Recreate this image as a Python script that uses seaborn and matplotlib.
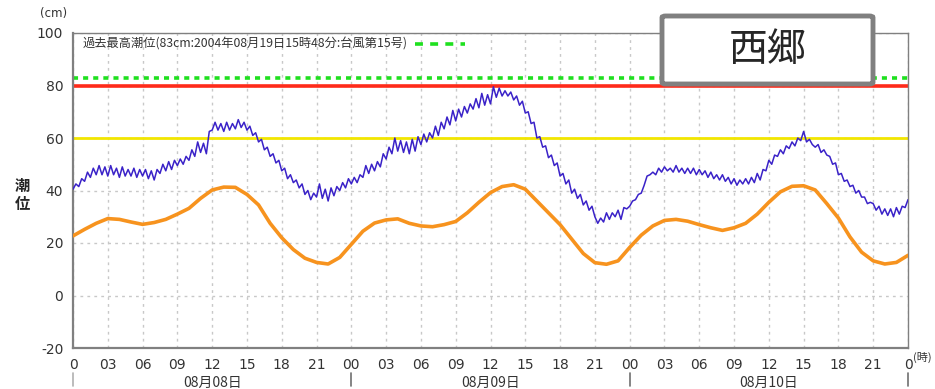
import numpy as np
import pandas as pd
import matplotlib
matplotlib.use('Agg')
import matplotlib.pyplot as plt
import seaborn as sns
from matplotlib.patches import FancyBboxPatch
from matplotlib.lines import Line2D

sns.set_style('white')
plt.rcParams['font.family'] = ['DejaVu Sans', 'Noto Sans CJK JP']
plt.rcParams['axes.unicode_minus'] = False

# observed tide, every 15 minutes (cm), one row per hour
observed = [
    40.5, 42.5, 41.5, 44.5,  43.5, 47.0, 45.0, 48.5,  46.0, 49.5, 46.0, 49.0,
    45.5, 49.5, 46.0, 48.5,  45.0, 49.0, 45.5, 48.0,  45.5, 48.5, 45.0, 48.0,
    45.5, 48.0, 44.5, 47.5,  44.0, 48.0, 46.5, 50.0,  47.5, 51.0, 48.0, 51.5,
    49.5, 52.0, 50.0, 53.0,  51.5, 55.5, 53.0, 58.5,  54.5, 58.0, 54.0, 62.5,
    63.0, 66.0, 63.0, 65.5,  62.5, 66.0, 63.0, 65.5,  63.5, 67.0, 64.0, 66.0,
    63.0, 64.5, 61.0, 62.0,  58.5, 59.5, 55.5, 56.5,  53.0, 54.0, 50.5, 51.5,
    47.5, 48.5, 44.5, 46.0,  43.0, 44.0, 41.0, 42.5,  38.5, 40.0, 36.5, 39.0,
    37.5, 42.5, 37.0, 40.5,  36.0, 41.0, 38.0, 41.5,  40.0, 43.0, 41.0, 44.5,
    42.5, 45.0, 43.0, 46.0,  45.0, 49.5, 46.5, 50.0,  47.5, 51.0, 49.0, 54.0,
    52.0, 56.5, 54.0, 60.0,  55.0, 59.0, 54.5, 58.5,  54.0, 59.5, 55.0, 60.5,
    57.5, 61.5, 58.5, 62.0,  60.0, 64.5, 61.0, 66.0,  63.5, 68.0, 65.0, 70.5,
    66.5, 71.0, 68.0, 72.0,  69.5, 73.0, 71.0, 75.0,  71.5, 77.0, 72.5, 76.5,
    73.0, 79.5, 75.5, 79.0,  76.0, 78.0, 76.0, 77.5,  74.5, 76.0, 72.5, 74.0,
    69.5, 70.0, 65.5, 66.0,  60.0, 60.5, 56.5, 57.0,  52.5, 53.5, 49.5, 50.5,
    45.5, 46.5, 42.5, 44.0,  39.0, 40.5, 37.0, 38.5,  34.5, 36.0, 32.5, 34.0,
    30.0, 27.5, 29.5, 28.0,  31.5, 29.0, 31.5, 30.0,  32.5, 29.0, 33.5, 33.0,
    34.0, 36.0, 36.5, 38.5,  39.0, 42.0, 45.5, 46.0,  47.0, 46.0, 48.5, 47.0,
    49.0, 47.5, 48.5, 47.0,  49.5, 47.0, 48.5, 46.5,  48.5, 46.5, 48.5, 46.0,
    48.0, 46.0, 47.5, 45.0,  47.0, 44.5, 46.0, 44.0,  46.0, 43.5, 45.0, 42.5,
    44.5, 42.0, 44.0, 42.5,  44.5, 42.5, 45.0, 43.0,  46.5, 44.0, 48.0, 47.5,
    51.5, 50.0, 53.5, 53.0,  55.5, 54.0, 57.0, 56.0,  58.5, 57.0, 60.0, 59.0,
    62.5, 58.5, 59.5, 57.5,  56.5, 57.5, 54.5, 55.5,  53.5, 53.0, 50.0, 50.5,
    46.0, 46.5, 43.5, 44.0,  41.5, 42.0, 39.0, 40.0,  37.5, 37.5, 35.0, 35.5,
    35.0, 32.5, 34.0, 31.0,  33.0, 30.5, 33.0, 30.0,  33.5, 31.0, 34.0, 33.5,
    36.5,
]

# astronomical tide, hourly (cm)
astro = [
    22.7, 25.2, 27.5, 29.3, 29.0, 28.0, 27.1, 27.8, 29.0, 31.0, 33.2, 37.0,
    40.2, 41.3, 41.2, 38.5, 34.5, 27.5, 22.0, 17.5, 14.2, 12.6, 12.0, 14.5,
    19.5, 24.5, 27.6, 28.8, 29.2, 27.5, 26.5, 26.2, 27.0, 28.2, 31.5, 35.5,
    39.2, 41.5, 42.2, 40.5, 36.0, 31.5, 27.0, 21.5, 16.0, 12.5, 11.9, 13.2,
    18.3, 23.0, 26.5, 28.6, 29.0, 28.3, 27.0, 25.8, 24.8, 25.8, 27.5, 31.0,
    35.5, 39.5, 41.6, 41.8, 40.2, 35.0, 29.5, 22.3, 16.5, 13.2, 12.0, 12.6,
    15.3,
]

record_level = 83
warn_level = 80
caution_level = 60
record_label = '過去最高潮位(83cm:2004年08月19日15時48分:台風第15号)'
station = '西郷'
x_ticklabels = ['0', '03', '06', '09', '12', '15', '18', '21',
                '00', '03', '06', '09', '12', '15', '18', '21',
                '00', '03', '06', '09', '12', '15', '18', '21', '0']
dates = ['08月08日', '08月09日', '08月10日']

obs_df = pd.DataFrame({'hour': np.arange(len(observed)) * 0.25, 'level': observed})
ast_df = pd.DataFrame({'hour': np.arange(len(astro)), 'level': astro})

fig = plt.figure(figsize=(9.35, 3.89), dpi=100)
ax = fig.add_axes([73 / 935, 1 - 348 / 389, 835 / 935, 315 / 389])

ax.axhline(caution_level, color='#f2e600', lw=2, zorder=2)
ax.axhline(warn_level, color='#ff2a1a', lw=2.6, zorder=2)
ax.axhline(record_level, color='#1fe01f', lw=2.6, ls=(0, (1.4, 1.4)), zorder=2)

sns.lineplot(data=ast_df, x='hour', y='level', color='#f7931e', lw=2.6, ax=ax, zorder=3)
sns.lineplot(data=obs_df, x='hour', y='level', color='#3a22c8', lw=1.1, ax=ax, zorder=4)
for line in ax.get_lines():
    line.set_solid_joinstyle('round')

ax.set_xlim(0, 72)
ax.set_ylim(-20, 100)
ax.set_xlabel('')
ax.set_ylabel('')
ax.set_xticks(np.arange(0, 73, 3))
ax.set_xticks(np.arange(0, 73, 1), minor=True)
ax.set_xticklabels(x_ticklabels)
ax.set_yticks(np.arange(-20, 101, 20))
ax.tick_params(axis='both', which='major', direction='out', length=5, width=1,
               color='#707070', labelsize=10, labelcolor='#333333', pad=2)
ax.tick_params(axis='x', which='minor', direction='out', length=4, width=1, color='#707070')
ax.grid(True, which='major', color='#c8c8c8', ls=(0, (2, 3)), lw=1)
for side in ['left', 'bottom']:
    ax.spines[side].set_color('#808080')
    ax.spines[side].set_linewidth(1.6)
for side in ['top', 'right']:
    ax.spines[side].set_color('#808080')
    ax.spines[side].set_linewidth(1.0)

# legend for record level
ax.text(0.012, 0.965, record_label, transform=ax.transAxes, fontsize=8.8,
        color='#333333', va='center', ha='left', family=['Noto Sans CJK JP'])
ax.add_line(Line2D([0.41, 0.47], [0.965, 0.965], transform=ax.transAxes,
                   color='#1fe01f', lw=2.6, ls=(0, (2.2, 2.0))))

# station box
box = FancyBboxPatch((662 / 935, 1 - 84 / 389), 211 / 935, 68 / 389,
                     boxstyle='round,pad=0,rounding_size=0.004', transform=fig.transFigure,
                     facecolor='white', edgecolor='#808080', lw=3.5, zorder=10)
fig.add_artist(box)
fig.text(768 / 935, 1 - 50 / 389, station, fontsize=28, ha='center', va='center',
         family=['Noto Sans CJK JP'], zorder=11)

# axis annotations
fig.text(54 / 935, 1 - 14 / 389, '(cm)', fontsize=8.5, ha='center', va='center', color='#333333')
fig.text(22 / 935, 1 - 195 / 389, '潮\n位', fontsize=11, fontweight='bold', ha='center',
         va='center', linespacing=1.15, family=['Noto Sans CJK JP'])
fig.text(913 / 935, 1 - 357 / 389, '(時)', fontsize=8, ha='left', va='center',
         color='#333333', family=['Noto Sans CJK JP'])

for i, d in enumerate(dates):
    fig.text((73 + (12 + 24 * i) * 835 / 72) / 935, 1 - 376 / 389, d, fontsize=10,
             ha='center', va='top', color='#333333', family=['Noto Sans CJK JP'])
for h in [0, 24, 48, 72]:
    xf = (73 + h * 835 / 72) / 935
    fig.add_artist(Line2D([xf, xf], [1 - 373 / 389, 1 - 386 / 389],
                          transform=fig.transFigure, color='#b0b0b0' if h == 0 else '#707070', lw=1.2))

fig.savefig('out.png', dpi=100)
